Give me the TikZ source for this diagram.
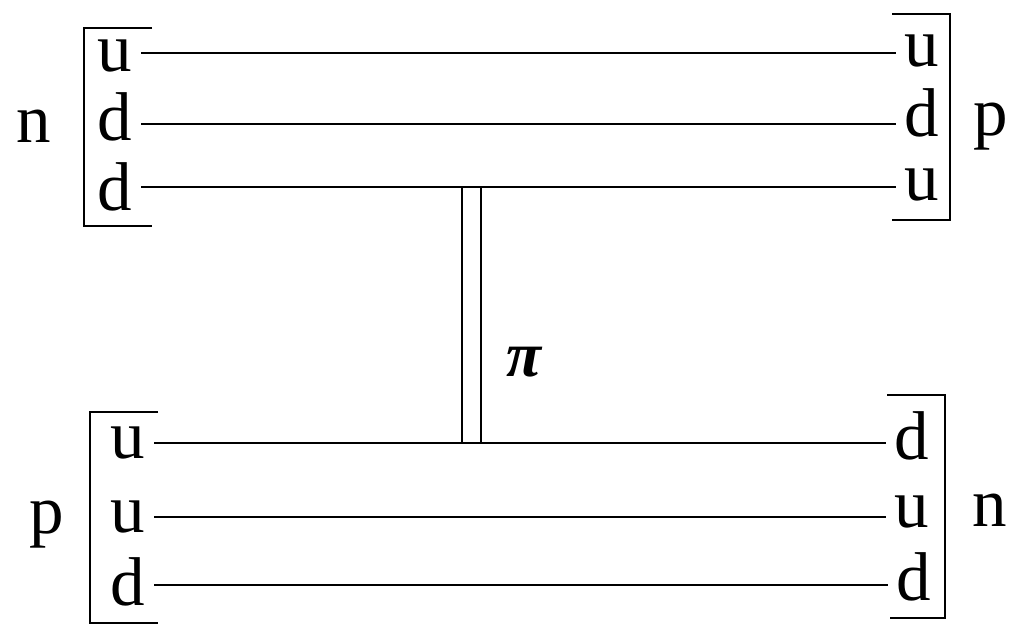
\documentclass[tikz,border=0pt]{standalone}
\usepackage{fontspec}
\setmainfont{Liberation Serif}
\begin{document}
\begin{tikzpicture}[x=1pt,y=-1pt,
  q/.style={anchor=base,inner xsep=9pt,inner ysep=0pt,font=\fontsize{69}{76}\selectfont},
  lab/.style={anchor=base,inner sep=0pt,font=\fontsize{69}{76}\selectfont},
  ln/.style={line width=2pt},
  br/.style={line width=2pt}]
\useasboundingbox (0,0) rectangle (1012,627);
% top-left quarks (neutron)
\node[q] (a1) at (115,71) {u};
\node[q] (a2) at (115,140) {d};
\node[q] (a3) at (115,210) {d};
% top-right quarks (proton)
\node[q] (b1) at (922,66) {u};
\node[q] (b2) at (922,136) {d};
\node[q] (b3) at (922,200) {u};
% bottom-left (proton)
\node[q] (c1) at (128,458) {u};
\node[q] (c2) at (128,532) {u};
\node[q] (c3) at (128,605) {d};
% bottom-right (neutron)
\node[q] (d1) at (912,459) {d};
\node[q] (d2) at (912,527) {u};
\node[q] (d3) at (914,600) {d};
% particle labels
\node[lab] (nl) at (34,142) {n};
\node[lab] (pr) at (991,135) {p};
\node[lab] (pl) at (47,533) {p};
\node[lab] (nr) at (990,526) {n};
% quark lines (heights of the reference)
\draw[ln] ([yshift=18pt]a1.base east) -- ([yshift=18pt]a1.base east -| b1.base west);
\draw[ln] ([yshift=16pt]a2.base east) -- ([yshift=16pt]a2.base east -| b2.base west);
\draw[ln] ([yshift=23pt]a3.base east) -- ([yshift=23pt]a3.base east -| b3.base west);
\draw[ln] ([yshift=15pt]c1.base east) -- ([yshift=15pt]c1.base east -| d1.base west);
\draw[ln] ([yshift=15pt]c2.base east) -- ([yshift=15pt]c2.base east -| d2.base west);
\draw[ln] ([yshift=20pt]c3.base east) -- ([yshift=20pt]c3.base east -| d3.base west);
% brackets
\draw[br] (152,28) -- (84,28) -- (84,226) -- (152,226);
\draw[br] (892,14) -- (950,14) -- (950,220) -- (892,220);
\draw[br] (158,412) -- (90,412) -- (90,623) -- (158,623);
\draw[br] (887,395) -- (945,395) -- (945,618) -- (890,618);
% pion exchange
\coordinate (xa) at (462,0);
\coordinate (xb) at (481,0);
\draw[ln] ([yshift=23pt]a3.base east -| xa) -- ([yshift=15pt]c1.base east -| xa);
\draw[ln] ([yshift=23pt]a3.base east -| xb) -- ([yshift=15pt]c1.base east -| xb);
\node[anchor=base,inner sep=0pt,font=\fontsize{64}{70}\selectfont\bfseries\itshape] (pi) at (524,376) {π};
\end{tikzpicture}
\end{document}
